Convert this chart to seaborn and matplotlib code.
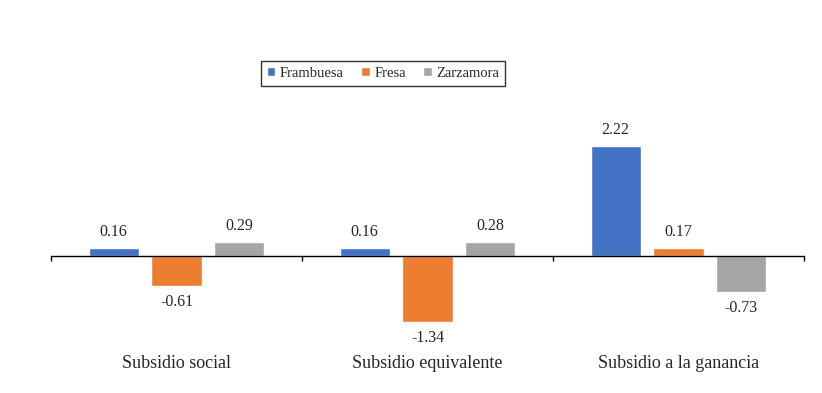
import pandas as pd
import matplotlib.pyplot as plt
import seaborn as sns

categories = ['Subsidio social', 'Subsidio equivalente', 'Subsidio a la ganancia']
series = ['Frambuesa', 'Fresa', 'Zarzamora']
frambuesa = [0.16, 0.16, 2.22]
fresa = [-0.61, -1.34, 0.17]
zarzamora = [0.29, 0.28, -0.73]
colors = ['#4472C4', '#ED7D31', '#A5A5A5']

# long format for seaborn
df = pd.DataFrame({
    'Subsidio': categories * 3,
    'Fruta': [s for s in series for _ in categories],
    'Valor': frambuesa + fresa + zarzamora,
})

sns.set_style('white')
plt.rcParams['font.family'] = ['Liberation Serif', 'DejaVu Serif']

fig = plt.figure(figsize=(8.22, 3.93), dpi=100)
ax = fig.add_axes([0.062, 0.0967, 0.916, 0.5668])

sns.barplot(data=df, x='Subsidio', y='Valor', hue='Fruta', order=categories,
            hue_order=series, palette=colors, width=0.75, gap=0.2,
            saturation=1, ax=ax, legend=True)

for cont in ax.containers:
    ax.bar_label(cont, fmt='%.2f', padding=5.5, fontsize=11.5)

ax.set_xlim(-0.5, 2.5)
ax.set_ylim(-2, 2.5)
ax.set_xlabel('')
ax.set_ylabel('')
ax.set_yticks([])

for side in ['top', 'right', 'left']:
    ax.spines[side].set_visible(False)
ax.spines['bottom'].set_position(('data', 0))
ax.spines['bottom'].set_color('black')
ax.spines['bottom'].set_linewidth(1)

ax.set_xticks([0, 1, 2])
ax.set_xticklabels(categories, fontsize=13)
ax.tick_params(axis='x', which='major', bottom=True, length=0, pad=71)
ax.set_xticks([-0.5, 0.5, 1.5, 2.5], minor=True)
ax.tick_params(axis='x', which='minor', bottom=True, length=3.5, width=1,
               color='black', direction='out')

ax.legend_.remove()
leg = fig.legend(*ax.get_legend_handles_labels(), loc='center', bbox_to_anchor=(0.466, 0.813),
                 ncol=3, fontsize=10.5, frameon=True, fancybox=False, edgecolor='black',
                 handlelength=0.6, handleheight=0.6, handletextpad=0.3, columnspacing=1.2,
                 borderpad=0.4)
leg.get_frame().set_linewidth(1)

fig.savefig('out.png', dpi=100)
